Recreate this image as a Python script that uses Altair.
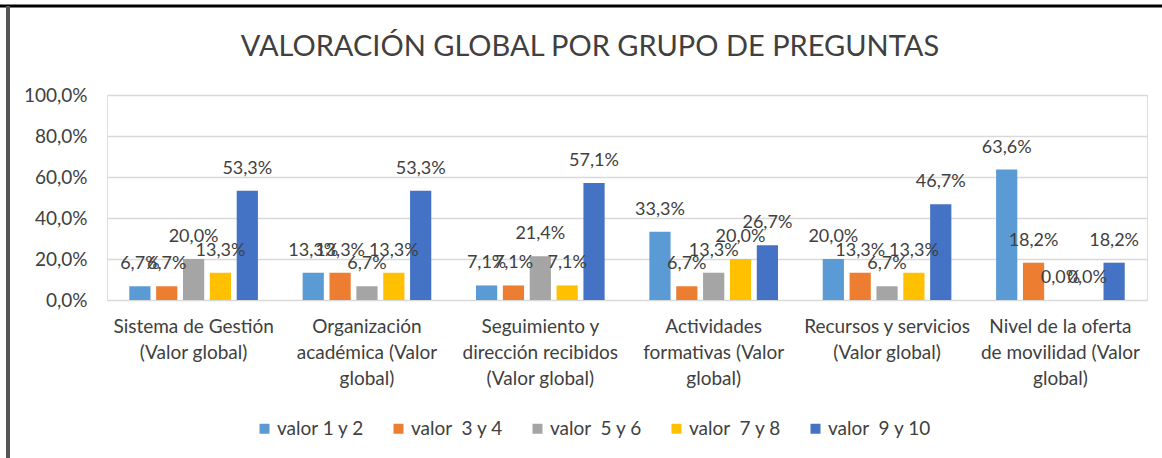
import altair as alt
import pandas as pd

categories = [
    "Sistema de Gestión\n(Valor global)",
    "Organización\nacadémica (Valor\nglobal)",
    "Seguimiento y\ndirección recibidos\n(Valor global)",
    "Actividades\nformativas (Valor\nglobal)",
    "Recursos y servicios\n(Valor global)",
    "Nivel de la oferta\nde movilidad (Valor\nglobal)",
]
series = ["valor 1 y 2", "valor\u00a0 3 y 4", "valor\u00a0 5 y 6", "valor\u00a0 7 y 8", "valor\u00a0 9 y 10"]
valor_1_2 = [6.7, 13.3, 7.1, 33.3, 20.0, 63.6]
valor_3_4 = [6.7, 13.3, 7.1, 6.7, 13.3, 18.2]
valor_5_6 = [20.0, 6.7, 21.4, 13.3, 6.7, 0.0]
valor_7_8 = [13.3, 13.3, 7.1, 20.0, 13.3, 0.0]
valor_9_10 = [53.3, 53.3, 57.1, 26.7, 46.7, 18.2]
colors = ["#5B9BD5", "#ED7D31", "#A5A5A5", "#FFC000", "#4472C4"]
y_ticks = [0, 20, 40, 60, 80, 100]

rows = []
for s, vals in zip(series, [valor_1_2, valor_3_4, valor_5_6, valor_7_8, valor_9_10]):
    for c, v in zip(categories, vals):
        rows.append({"grupo": c, "serie": s, "valor": v})
df = pd.DataFrame(rows)

FONT = "Lato"
TXT = "#404040"

base = alt.Chart(df).encode(
    x=alt.X(
        "grupo:N",
        sort=categories,
        scale=alt.Scale(paddingInner=0.227, paddingOuter=0.113),
        axis=alt.Axis(
            title=None,
            labelAngle=0,
            ticks=False,
            domain=False,
            labelExpr="split(datum.label, '\\n')",
            labelFont=FONT,
            labelFontSize=19,
            labelColor=TXT,
            labelLineHeight=26,
            labelPadding=17,
            labelLimit=400,
        ),
    ),
    xOffset=alt.XOffset("serie:N", sort=series, scale=alt.Scale(paddingInner=0.21, paddingOuter=0.1)),
    y=alt.Y(
        "valor:Q",
        scale=alt.Scale(domain=[0, 100]),
        axis=alt.Axis(
            title=None,
            values=y_ticks,
            ticks=False,
            domain=False,
            labelExpr="replace(format(datum.value, '.1f'), '.', ',') + '%'",
            labelFont=FONT,
            labelFontSize=19,
            labelColor=TXT,
            labelPadding=20,
            gridColor="#d9d9d9",
            gridWidth=1.5,
        ),
    ),
)

bars = base.mark_bar().encode(
    color=alt.Color(
        "serie:N",
        sort=series,
        scale=alt.Scale(domain=series, range=colors),
        legend=alt.Legend(
            title=None,
            orient="none",
            direction="horizontal",
            columns=5,
            legendX=148,
            legendY=324,
            symbolType="square",
            symbolSize=100,
            symbolStrokeWidth=0,
            labelFont=FONT,
            labelFontSize=19,
            labelColor=TXT,
            labelOffset=3,
            columnPadding=24,
        ),
    )
)

labels = base.mark_text(
    font=FONT, fontSize=18, color=TXT, baseline="middle", align="center", dy=-22
).encode(text=alt.Text("etiqueta:N")).transform_calculate(
    etiqueta="replace(format(datum.valor, '.1f'), '.', ',') + '%'"
)

frame_df = pd.DataFrame({"k": [0]})
top_line = alt.Chart(frame_df).mark_rule(color="#000000", strokeWidth=3).encode(
    x=alt.value(-107), x2=alt.value(1055), y=alt.value(-89)
)
left_line = alt.Chart(frame_df).mark_rule(color="#555555", strokeWidth=4).encode(
    x=alt.value(-99), y=alt.value(-89), y2=alt.value(363)
)

chart = (
    alt.layer(bars, labels, top_line, left_line)
    .properties(
        width=1040,
        height=205,
        autosize=alt.AutoSizeParams(type="none"),
        padding={"left": 107, "top": 95, "right": 15, "bottom": 158},
        title=alt.TitleParams(
            text="VALORACIÓN GLOBAL POR GRUPO DE PREGUNTAS",
            font=FONT,
            fontSize=29,
            fontWeight="normal",
            color=TXT,
            anchor="middle",
            frame="bounds",
            offset=-58,
            dx=9,
        ),
    )
    .configure_view(stroke=None)
    .configure(background="white")
)

chart.save("out.html", embed_options={"renderer": "svg", "actions": False})
